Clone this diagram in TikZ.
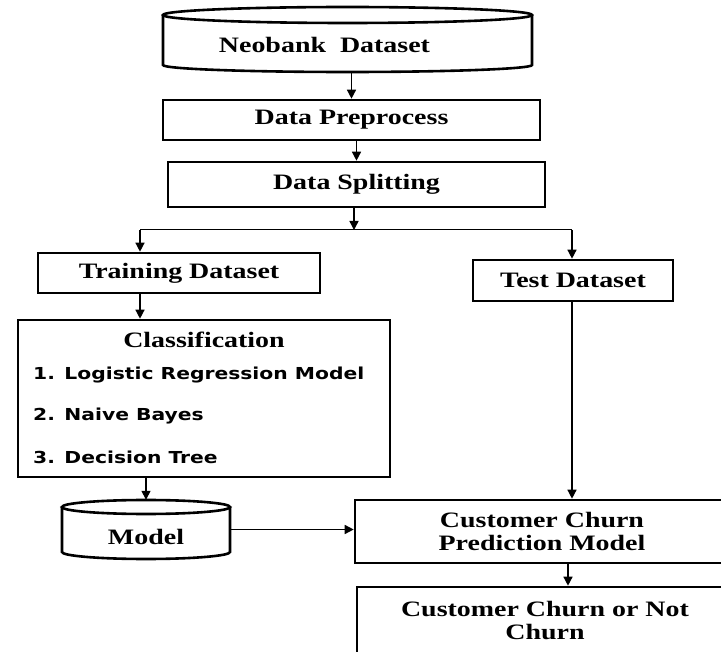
\documentclass[tikz,border=0pt]{standalone}
\usepackage{fontspec}
\setmainfont{Liberation Serif}
\newfontfamily\itemfont{DejaVu Sans}
\usepackage{graphicx}
\usetikzlibrary{arrows.meta}
\newcommand\sx[1]{\scalebox{1.27}[1]{#1}}
\newcommand\si[1]{\scalebox{1.23}[1]{#1}}
\begin{document}
\begin{tikzpicture}[x=1pt,y=-1pt,
  box/.style={draw, line width=2.6pt, inner sep=0pt, align=center,
    font=\fontsize{22}{23}\selectfont\bfseries},
  plain/.style={inner sep=0pt, align=center, font=\fontsize{22}{23}\selectfont\bfseries},
  cyl/.style={draw, line width=2.6pt, fill=white},
  conn/.style={line width=1.4pt, -{Triangle[length=9pt,width=9pt]}},
  itm/.style={anchor=west, inner sep=0pt, font=\itemfont\fontsize{16.5}{18}\selectfont\bfseries}]
\useasboundingbox (0,0) rectangle (721,652);
\clip (0,0) rectangle (721,652);
% cylinders
\draw[cyl] (163,15) -- (163,65) arc[start angle=180,end angle=0,x radius=184.5,y radius=7] -- (532,15);
\draw[cyl] (347.5,15) ellipse[x radius=184.5, y radius=8];
\node[plain, minimum width=369pt, minimum height=65pt, text height=27pt, text depth=0pt] (neo) at (347.5,39.5) {\hspace*{-46pt}\sx{Neobank\ \ Dataset}};
\draw[cyl] (62,507) -- (62,552) arc[start angle=180,end angle=0,x radius=84,y radius=7] -- (230,507);
\draw[cyl] (146,507) ellipse[x radius=84, y radius=7];
\node[plain, minimum width=168pt, minimum height=59pt, text height=29pt, text depth=0pt] (model) at (146,529.5) {\sx{Model}};
% boxes
\node[box, minimum width=377pt, minimum height=40pt] (prep) at (351.5,120) {\sx{Data Preprocess}};
\node[box, minimum width=377pt, minimum height=45pt] (split) at (356.5,184.5) {\sx{Data Splitting}};
\node[box, minimum width=282pt, minimum height=40pt] (train) at (179,273) {\sx{Training Dataset}};
\node[box, minimum width=200pt, minimum height=41pt] (test) at (573,280.5) {\sx{Test Dataset}};
\node[box, minimum width=372pt, minimum height=157pt] (cls) at (204,398.5) {};
\node[plain] (clst) at (204,340) {\sx{Classification}};
\node[itm] (i1) at (33,375) {\si{1. Logistic Regression Model}};
\node[itm] (i2) at (33,416) {\si{2. Naive Bayes}};
\node[itm] (i3) at (33,457) {\si{3. Decision Tree}};
\node[box, minimum width=374pt, minimum height=63pt] (ccpm) at (542,531.5) {\sx{Customer Churn}\\\sx{Prediction Model}};
\node[box, minimum width=376pt, minimum height=68pt] (fin) at (545,621) {\sx{Customer Churn or Not}\\\sx{Churn}};
% connectors
\coordinate (j) at (354,230);
\coordinate (jl) at (140,230);
\coordinate (jr) at (572,230);
\draw[conn] (neo.south -| prep.north) -- (prep.north);
\draw[conn] (split.north |- prep.south) -- (split.north);
\draw[conn] (split.south -| j) -- (j);
\draw[line width=1pt] (jl) -- (jr);
\draw[conn] (jl) -- (jl |- train.north);
\draw[conn] (jr) -- (jr |- test.north);
\draw[conn] (jl |- train.south) -- (jl |- cls.north);
\draw[conn] (model.north |- cls.south) -- (model.north);
\draw[conn] (model.east) -- (model.east -| ccpm.west);
\draw[conn] (jr |- test.south) -- (jr |- ccpm.north);
\draw[conn] ([xshift=26pt]ccpm.south) -- ([xshift=26pt]ccpm.south |- fin.north);
\end{tikzpicture}
\end{document}
